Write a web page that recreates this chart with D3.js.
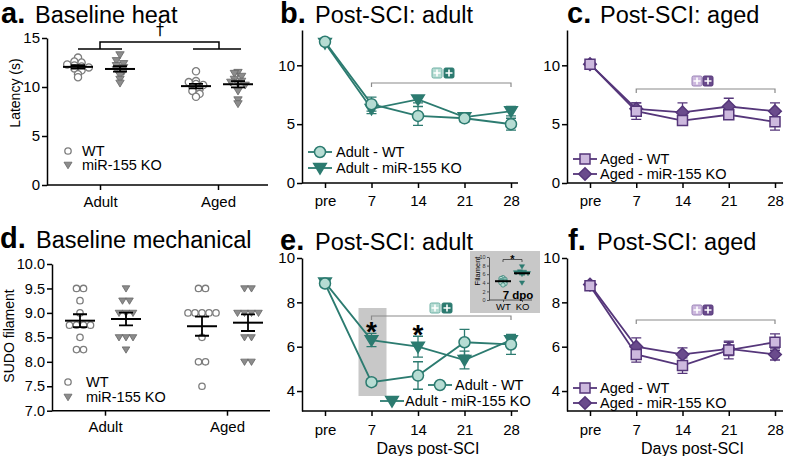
<!DOCTYPE html>
<html><head><meta charset="utf-8">
<script src="https://cdn.jsdelivr.net/npm/d3@7"></script>
<style>body{margin:0;background:#fff} svg{display:block;font-family:"Liberation Sans",Arial,Helvetica,sans-serif}</style>
</head><body><svg id="c" width="800" height="456"></svg>
<script>
// ---------------- DATA ----------------
const groups = ["Adult", "Aged"];
const genotypes = ["WT", "miR-155 KO"];
// a. Baseline heat (latency, s)
const heatAdultWT = [13.0, 12.6, 12.5, 12.3, 12.2, 12.1, 12.0, 11.9, 11.7, 11.3, 11.0];
const heatAdultKO = [13.3, 12.7, 12.4, 12.2, 12.0, 11.8, 11.6, 11.2, 10.8, 10.4];
const heatAgedWT  = [11.6, 10.6, 10.5, 10.3, 10.2, 10.0, 9.8, 9.6, 9.3, 9.0];
const heatAgedKO  = [11.5, 11.4, 11.1, 10.8, 10.6, 10.5, 10.4, 10.2, 9.6, 8.7, 8.3];
const heatTicks = [0, 5, 10, 15];
// d. Baseline mechanical (SUDO filament)
const mechAdultWT = [9.5, 9.5, 9.25, 9.0, 8.75, 8.75, 8.75, 8.75, 8.5, 8.25, 8.25];
const mechAdultKO = [9.5, 9.25, 9.25, 9.0, 9.0, 9.0, 8.5, 8.5, 8.5, 8.25];
const mechAgedWT  = [9.5, 9.5, 9.0, 9.0, 9.0, 9.0, 9.0, 8.5, 8.0, 8.0, 7.5];
const mechAgedKO  = [9.5, 9.5, 9.0, 9.0, 9.0, 9.0, 8.5, 8.5, 8.0, 8.0];
const mechTicks = [7.0, 7.5, 8.0, 8.5, 9.0, 9.5, 10.0];
// time courses
const days = ["pre", "7", "14", "21", "28"];
const bWT = [12.0, 6.7, 5.7, 5.5, 5.0];   const bWTerr = [0.15, 0.6, 0.8, 0.3, 0.5];
const bKO = [11.9, 6.3, 7.1, 5.6, 6.1];   const bKOerr = [0.15, 0.4, 0.3, 0.3, 0.4];
const cWT = [10.1, 6.1, 5.3, 5.8, 5.2];   const cWTerr = [0.15, 0.7, 0.3, 0.3, 0.7];
const cKO = [10.1, 6.3, 6.0, 6.5, 6.1];   const cKOerr = [0.15, 0.5, 0.8, 0.7, 0.7];
const eWT = [8.85, 4.4, 4.7, 6.2, 6.1];   const eWTerr = [0.1, 0.15, 0.62, 0.58, 0.45];
const eKO = [8.9, 6.3, 6.0, 5.4, 6.3];    const eKOerr = [0.12, 0.3, 0.47, 0.4, 0.2];
const fWT = [8.75, 5.65, 5.15, 5.85, 6.2]; const fWTerr = [0.1, 0.35, 0.35, 0.4, 0.38];
const fKO = [8.8, 6.0, 5.65, 5.9, 5.65];   const fKOerr = [0.1, 0.4, 0.3, 0.3, 0.25];
const topTicks = [0, 5, 10];
const botTicks = [4, 6, 8, 10];
// e inset: 7 dpo filament
const insetWT = [5.2, 5.0, 4.8, 4.5, 4.4, 4.3, 4.2, 4.0, 3.8, 3.5];
const insetKO = [7.8, 6.6, 6.5, 6.4, 6.3, 6.2, 6.2, 6.0, 4.0];
const insetTicks = [0, 2, 4, 6, 8, 10];

// ---------------- STYLE ----------------
const tealDark = "#2c7b70", tealLight = "#b6dcd3", tealMid = "#6fb0a5";
const purDark = "#55367a", purLight = "#cdb9de", purKO = "#6a4b8c", purMid = "#9a82b6";
const greyStroke = "#7d7d7d", greyFill = "#8c8c8c";

const svg = d3.select("#c");

function styleAxis(g, fs) {
  g.attr("font-family", null).attr("font-size", fs);
  g.selectAll("path,line").attr("stroke", "#000").attr("stroke-width", 1.5);
  g.selectAll("text").attr("fill", "#000");
}
function title(x, y, lab, txt, xt) {
  const t = svg.append("text").attr("x", x).attr("y", y).attr("font-size", 23.5).attr("fill", "#000");
  t.append("tspan").attr("font-weight", "bold").attr("font-size", 29).text(lab);
  t.append("tspan").attr("x", xt).text(txt);
}
function triDown(s) { return `M${-s},${-s * 0.7}L${s},${-s * 0.7}L0,${s * 0.95}Z`; }
function square(s) { return `M${-s},${-s}H${s}V${s}H${-s}Z`; }
function diamond(s) { return `M0,${-s}L${s},0L0,${s}L${-s},0Z`; }
function circ(r) { return d3.arc()({innerRadius: 0, outerRadius: r, startAngle: 0, endAngle: 2 * Math.PI}); }

function rowLayout(values, bin, spacing) {
  const bins = d3.group(values, v => Math.round(v / bin));
  const out = [];
  for (const [, arr] of bins) arr.forEach((v, j) => out.push({v, dx: (j - (arr.length - 1) / 2) * spacing}));
  return out;
}

// ---------------- SCATTER PANELS (a, d) ----------------
function scatterPanel(cfg) {
  const g = svg.append("g");
  const y = d3.scaleLinear(cfg.yd, cfg.yr);
  const gx = d3.scalePoint(groups, cfg.gr);
  const off = d3.scalePoint(genotypes, cfg.off);
  const ya = g.append("g").attr("transform", `translate(${cfg.ax0},0)`)
    .call(d3.axisLeft(y).tickValues(cfg.ticks).tickFormat(cfg.fmt).tickSize(5).tickPadding(2).tickSizeOuter(0));
  styleAxis(ya, cfg.fs);
  const xa = g.append("g").attr("transform", `translate(0,${cfg.yr[0]})`)
    .call(d3.axisBottom(gx).tickSize(5).tickPadding(6).tickSizeOuter(0));
  xa.select(".domain").remove();
  styleAxis(xa, 15);
  g.append("line").attr("x1", cfg.ax0).attr("x2", cfg.ax1).attr("y1", cfg.yr[0]).attr("y2", cfg.yr[0])
    .attr("stroke", "#000").attr("stroke-width", 1.5);
  g.append("text").attr("transform", `translate(${cfg.ylx},${cfg.yly}) rotate(-90)`)
    .attr("text-anchor", "middle").attr("font-size", 14).text(cfg.ylab);
  cfg.sets.forEach(([grp, geno, vals]) => {
    const cx = gx(grp) + off(geno);
    const pts = rowLayout(vals, cfg.bin, cfg.sp);
    pts.forEach(p => {
      if (geno === "WT") {
        g.append("path").attr("d", circ(cfg.r)).attr("transform", `translate(${cx + p.dx},${y(p.v)})`)
          .attr("fill", "#fff").attr("stroke", greyStroke).attr("stroke-width", 1.3);
      } else {
        g.append("path").attr("d", triDown(cfg.r + 0.6)).attr("transform", `translate(${cx + p.dx},${y(p.v)})`)
          .attr("fill", greyFill).attr("stroke", "#666").attr("stroke-width", 0.8);
      }
    });
    const m = d3.mean(vals), se = d3.deviation(vals) / Math.sqrt(vals.length);
    g.append("line").attr("x1", cx - 15).attr("x2", cx + 15).attr("y1", y(m)).attr("y2", y(m))
      .attr("stroke", "#000").attr("stroke-width", 2);
    g.append("path").attr("d", `M${cx},${y(m + se)}V${y(m - se)}M${cx - 7},${y(m + se)}H${cx + 7}M${cx - 7},${y(m - se)}H${cx + 7}`)
      .attr("stroke", "#000").attr("stroke-width", 1.8).attr("fill", "none");
  });
  const L = cfg.leg;
  g.append("path").attr("d", circ(3.2)).attr("transform", `translate(${L.x},${L.y1})`)
    .attr("fill", "#fff").attr("stroke", greyStroke).attr("stroke-width", 1.3);
  g.append("path").attr("d", triDown(4)).attr("transform", `translate(${L.x},${L.y2})`)
    .attr("fill", greyFill).attr("stroke", "#666").attr("stroke-width", 0.8);
  g.append("text").attr("x", L.tx).attr("y", L.y1).attr("dy", "0.36em").attr("font-size", 14.5).text(genotypes[0]);
  g.append("text").attr("x", L.tx).attr("y", L.y2).attr("dy", "0.36em").attr("font-size", 14.5).text(genotypes[1]);
  return {g, y, gx, off};
}

title(1, 23, "a.", "Baseline heat", 35);
const A = scatterPanel({
  yd: [0, 15], yr: [185, 38], gr: [100, 218], off: [-22, 20], ax0: 47, ax1: 268,
  ticks: heatTicks, fmt: d3.format("d"), fs: 15, ylab: "Latency (s)", ylx: 20, yly: 93,
  bin: 0.45, sp: 7.2, r: 3.6,
  sets: [["Adult", "WT", heatAdultWT], ["Adult", "miR-155 KO", heatAdultKO], ["Aged", "WT", heatAgedWT], ["Aged", "miR-155 KO", heatAgedKO]],
  leg: {x: 68, y1: 151, y2: 165, tx: 82}
});
{
  const g = A.g;
  const yb = 49, yt = 42;
  const aW = A.gx("Adult") + A.off("WT"), aK = A.gx("Adult") + A.off("miR-155 KO");
  const gW = A.gx("Aged") + A.off("WT"), gK = A.gx("Aged") + A.off("miR-155 KO");
  g.append("path").attr("d", `M${aW},${yb}H${aK + 2}M${gW - 3},${yb}H${gK + 3}M${A.gx("Adult")},${yb}V${yt}H${A.gx("Aged") + 1}V${yb}`)
    .attr("stroke", "#000").attr("stroke-width", 1.5).attr("fill", "none");
  g.append("text").attr("x", 160).attr("y", 35).attr("text-anchor", "middle").attr("font-size", 16)
    .attr("fill", "#000").attr("font-family", "'DejaVu Sans', sans-serif").text("†");
}

title(0, 248, "d.", "Baseline mechanical", 36);
scatterPanel({
  yd: [7, 10], yr: [410.7, 264], gr: [105, 227], off: [-25, 21], ax0: 52, ax1: 270,
  ticks: mechTicks, fmt: d3.format(".1f"), fs: 14.5, ylab: "SUDO filament", ylx: 14, yly: 336,
  bin: 0.25, sp: 7, r: 3.2,
  sets: [["Adult", "WT", mechAdultWT], ["Adult", "miR-155 KO", mechAdultKO], ["Aged", "WT", mechAgedWT], ["Aged", "miR-155 KO", mechAgedKO]],
  leg: {x: 68, y1: 382, y2: 397, tx: 86}
});

// ---------------- LINE PANELS ----------------
function plusBox(g, x, y, fill, stroke) {
  g.append("rect").attr("x", x - 5).attr("y", y - 5).attr("width", 10).attr("height", 10).attr("rx", 1.5)
    .attr("fill", fill).attr("stroke", stroke).attr("stroke-width", 1);
  g.append("path").attr("d", `M${x - 3.5},${y}H${x + 3.5}M${x},${y - 3.5}V${y + 3.5}`).attr("stroke", "#fff").attr("stroke-width", 1.6);
}
function marker(g, kind, x, y, c) {
  let d;
  if (kind === "circle") d = circ(5.5);
  else if (kind === "tri") d = triDown(6.3);
  else if (kind === "square") d = square(5);
  else d = diamond(6.3);
  g.append("path").attr("d", d).attr("transform", `translate(${x},${y})`)
    .attr("fill", c.fill).attr("stroke", c.stroke).attr("stroke-width", 1.5);
}
function linePanel(cfg) {
  const g = svg.append("g");
  const x = d3.scalePoint(days, cfg.xr);
  const y = d3.scaleLinear(cfg.yd, cfg.yr);
  if (cfg.pre) cfg.pre(g, x, y);
  const xa = g.append("g").attr("transform", `translate(0,${cfg.yr[0]})`)
    .call(d3.axisBottom(x).tickSize(5).tickPadding(cfg.xpad).tickSizeOuter(0));
  xa.select(".domain").remove();
  styleAxis(xa, 15);
  g.append("line").attr("x1", cfg.ax0).attr("x2", cfg.ax1).attr("y1", cfg.yr[0]).attr("y2", cfg.yr[0])
    .attr("stroke", "#000").attr("stroke-width", 1.5);
  const ya = g.append("g").attr("transform", `translate(${cfg.ax0},0)`)
    .call(d3.axisLeft(y).tickValues(cfg.ticks).tickFormat(d3.format("d")).tickSize(5).tickPadding(2).tickSizeOuter(0));
  styleAxis(ya, 15);
  const yb = cfg.brY;
  g.append("path").attr("d", `M${x("7")},${yb + 4}V${yb}H${x("28")}V${yb + 4}`)
    .attr("stroke", "#8a8a8a").attr("stroke-width", 1.2).attr("fill", "none");
  plusBox(g, cfg.symX[0], cfg.symY, cfg.cols[0].fill, cfg.cols[0].symStroke);
  plusBox(g, cfg.symX[1], cfg.symY, cfg.cols[1].fill, cfg.cols[1].symStroke);
  const series = [[cfg.ko, cfg.koErr, cfg.kinds[1], cfg.cols[1]], [cfg.wt, cfg.wtErr, cfg.kinds[0], cfg.cols[0]]];
  series.forEach(([v, e, kind, c]) => {
    g.append("path").attr("d", d3.line().x((d, i) => x(days[i])).y(d => y(d))(v))
      .attr("fill", "none").attr("stroke", c.line).attr("stroke-width", 1.8);
    v.forEach((d, i) => {
      const xx = x(days[i]);
      g.append("path").attr("d", `M${xx},${y(d + e[i])}V${y(d - e[i])}M${xx - 5},${y(d + e[i])}H${xx + 5}M${xx - 5},${y(d - e[i])}H${xx + 5}`)
        .attr("stroke", c.line).attr("stroke-width", 1.3).attr("fill", "none");
    });
  });
  series.forEach(([v, e, kind, c]) => v.forEach((d, i) => marker(g, kind, x(days[i]), y(d), c)));
  cfg.leg.forEach((L, k) => {
    const c = cfg.cols[k];
    g.append("line").attr("x1", L.x - 12).attr("x2", L.x + 12).attr("y1", L.y).attr("y2", L.y)
      .attr("stroke", c.line).attr("stroke-width", 1.8);
    marker(g, cfg.kinds[k], L.x, L.y, c);
    g.append("text").attr("x", L.tx).attr("y", L.y).attr("dy", "0.36em").attr("font-size", 14.5).text(cfg.names[k]);
  });
  if (cfg.xlab) g.append("text").attr("x", (cfg.xr[0] + cfg.xr[1]) / 2 + 10).attr("y", 454)
    .attr("text-anchor", "middle").attr("font-size", 16).text(cfg.xlab);
  return {g, x, y};
}

const tealCols = [
  {fill: tealLight, stroke: tealDark, line: tealDark, symStroke: tealMid},
  {fill: tealDark, stroke: tealDark, line: tealDark, symStroke: tealDark}
];
const purCols = [
  {fill: purLight, stroke: purDark, line: purDark, symStroke: purMid},
  {fill: purKO, stroke: purDark, line: purDark, symStroke: purDark}
];

title(280, 23, "b.", "Post-SCI: adult", 315);
linePanel({
  xr: [325, 511], ax0: 302, ax1: 518, yd: [0, 13], yr: [183, 30], ticks: topTicks, xpad: 7,
  wt: bWT, wtErr: bWTerr, ko: bKO, koErr: bKOerr, kinds: ["circle", "tri"], cols: tealCols,
  names: ["Adult - WT", "Adult - miR-155 KO"], brY: 83, symX: [437, 449], symY: 73,
  leg: [{x: 320, y: 152, tx: 336}, {x: 320, y: 168, tx: 336}]
});

title(567, 23, "c.", "Post-SCI: aged", 600);
linePanel({
  xr: [590, 775], ax0: 567, ax1: 783, yd: [0, 13], yr: [183, 30], ticks: topTicks, xpad: 7,
  wt: cWT, wtErr: cWTerr, ko: cKO, koErr: cKOerr, kinds: ["square", "diamond"], cols: purCols,
  names: ["Aged - WT", "Aged - miR-155 KO"], brY: 89, symX: [697, 708], symY: 81,
  leg: [{x: 585, y: 159, tx: 600}, {x: 585, y: 174, tx: 600}]
});

title(280, 250, "e.", "Post-SCI: adult", 315);
const E = linePanel({
  xr: [325, 511], ax0: 302, ax1: 518, yd: [3.1, 10], yr: [411, 258], ticks: botTicks, xpad: 8,
  wt: eWT, wtErr: eWTerr, ko: eKO, koErr: eKOerr, kinds: ["circle", "tri"], cols: tealCols,
  names: ["Adult - WT", "Adult - miR-155 KO"], brY: 316, symX: [435, 447], symY: 308,
  leg: [{x: 440, y: 385, tx: 455}, {x: 392, y: 401, tx: 405}], xlab: "Days post-SCI",
  pre: (g, x, y) => {
    g.append("rect").attr("x", x("7") - 13).attr("y", 308).attr("width", 28).attr("height", 88).attr("fill", "#c8c8c8");
  }
});
E.g.append("text").attr("x", E.x("7")).attr("y", 341).attr("text-anchor", "middle").attr("font-size", 28).attr("font-weight", "bold").text("*");
E.g.append("text").attr("x", E.x("14")).attr("y", 344).attr("text-anchor", "middle").attr("font-size", 28).attr("font-weight", "bold").text("*");

// inset
{
  const g = svg.append("g");
  g.append("rect").attr("x", 470).attr("y", 251).attr("width", 70).attr("height", 62).attr("fill", "#c8c8c8");
  const iy = d3.scaleLinear([0, 10], [300, 257]);
  const ix = d3.scalePoint(["WT", "KO"], [503, 522]);
  const ya = g.append("g").attr("transform", "translate(489,0)")
    .call(d3.axisLeft(iy).tickValues(insetTicks).tickSize(2).tickPadding(1.5).tickSizeOuter(0));
  ya.attr("font-family", null).attr("font-size", 5.5);
  ya.selectAll("path,line").attr("stroke", "#333").attr("stroke-width", 0.8);
  ya.selectAll("text").attr("fill", "#333");
  const xa = g.append("g").attr("transform", "translate(0,300)")
    .call(d3.axisBottom(ix).tickSize(2).tickPadding(1).tickSizeOuter(0));
  xa.select(".domain").remove();
  xa.attr("font-family", null).attr("font-size", 9.5);
  xa.selectAll("line").attr("stroke", "#333").attr("stroke-width", 0.8);
  xa.selectAll("text").attr("fill", "#000");
  g.append("line").attr("x1", 489).attr("x2", 532).attr("y1", 300).attr("y2", 300).attr("stroke", "#333").attr("stroke-width", 0.8);
  g.append("text").attr("transform", "translate(480,271) rotate(-90)").attr("text-anchor", "middle").attr("font-size", 7.5).text("Filament");
  [["WT", insetWT], ["KO", insetKO]].forEach(([k, vals]) => {
    const cx = ix(k);
    rowLayout(vals, 0.35, 4).forEach(p => {
      if (k === "WT") g.append("path").attr("d", circ(2.2)).attr("transform", `translate(${cx + p.dx},${iy(p.v)})`)
        .attr("fill", tealLight).attr("stroke", tealDark).attr("stroke-width", 0.7);
      else g.append("path").attr("d", triDown(2.6)).attr("transform", `translate(${cx + p.dx},${iy(p.v)})`)
        .attr("fill", tealDark).attr("stroke", tealDark).attr("stroke-width", 0.5);
    });
    const m = d3.mean(vals);
    g.append("line").attr("x1", cx - 8).attr("x2", cx + 8).attr("y1", iy(m)).attr("y2", iy(m)).attr("stroke", "#000").attr("stroke-width", 2);
  });
  g.append("path").attr("d", `M${ix("WT")},262V259.5H${ix("KO")}V262`).attr("stroke", "#333").attr("stroke-width", 0.8).attr("fill", "none");
  g.append("text").attr("x", 512.5).attr("y", 262.5).attr("text-anchor", "middle").attr("font-size", 11).attr("font-weight", "bold").text("*");
  g.append("text").attr("x", 518).attr("y", 299).attr("text-anchor", "middle").attr("font-size", 11.5).attr("font-weight", "bold").text("7 dpo");
}

title(568, 250, "f.", "Post-SCI: aged", 597);
linePanel({
  xr: [590, 775], ax0: 567, ax1: 783, yd: [3.1, 10], yr: [411, 258], ticks: botTicks, xpad: 8,
  wt: fWT, wtErr: fWTerr, ko: fKO, koErr: fKOerr, kinds: ["square", "diamond"], cols: purCols,
  names: ["Aged - WT", "Aged - miR-155 KO"], brY: 320, symX: [697, 708], symY: 310,
  leg: [{x: 585, y: 388, tx: 600}, {x: 585, y: 403, tx: 600}], xlab: "Days post-SCI"
});
</script></body></html>
